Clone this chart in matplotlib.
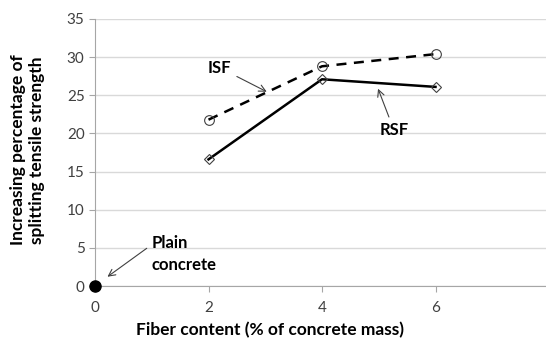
import matplotlib.pyplot as plt
import numpy as np

plt.rcParams["font.family"] = ["Lato", "DejaVu Sans"]

fiber = [2, 4, 6]
isf = [21.8, 28.8, 30.4]
rsf = [16.6, 27.1, 26.1]
plain_x = [0]
plain_y = [0]
xtick_labels = ["0", "2", "4", "6", ""]

fig = plt.figure(figsize=(5.46, 3.41), dpi=100)
ax = fig.add_axes((95 / 546, 55 / 341, 454 / 546, 267 / 341))

ax.set_xlim(0, 8)
ax.set_ylim(0, 35)
ax.set_xticks([0, 2, 4, 6, 8])
ax.set_xticklabels(xtick_labels)
ax.set_yticks(np.arange(0, 36, 5))
ax.yaxis.grid(True, color="#d9d9d9", lw=1)
ax.set_axisbelow(True)
for s in ["top", "right"]:
    ax.spines[s].set_visible(False)
for s in ["left", "bottom"]:
    ax.spines[s].set_color("#a6a6a6")
ax.tick_params(colors="#a6a6a6", labelcolor="#404040", labelsize=11, length=4)
ax.tick_params(axis="x", pad=7)

ax.plot(fiber, isf, "k--", lw=1.8, dashes=(4, 3), marker="o", ms=7,
        mfc="none", mec="#404040", mew=0.8, clip_on=False)
ax.plot(fiber, rsf, "k-", lw=1.8, marker="D", ms=5,
        mfc="none", mec="#404040", mew=0.8, clip_on=False)
ax.plot(plain_x, plain_y, "ko", ms=8, clip_on=False, zorder=5)

arrow = dict(arrowstyle="->", color="#404040", lw=0.8)
ax.annotate("ISF", xy=(3.07, 25.3), xytext=(2.2, 28.6), fontsize=12,
            fontweight="bold", ha="center", va="center", arrowprops=arrow)
ax.annotate("RSF", xy=(4.97, 26.2), xytext=(5.27, 20.4), fontsize=12,
            fontweight="bold", ha="center", va="center", arrowprops=arrow)
ax.annotate("Plain\nconcrete", xy=(0.18, 1.0), xytext=(1.0, 4.2), fontsize=12,
            fontweight="bold", ha="left", va="center", linespacing=1.4,
            arrowprops=dict(arrowstyle="->", color="#404040", lw=0.8,
                            relpos=(0, 0.75)))

ax.set_xlabel("Fiber content (% of concrete mass)", fontsize=12.5,
              fontweight="bold", color="black")
ax.xaxis.set_label_coords(0.385, -0.135)
ax.set_ylabel("Increasing percentage of\nsplitting tensile strength", fontsize=12.5,
              fontweight="bold", color="black", linespacing=1.2)
ax.yaxis.set_label_coords(-0.11, 0.51)

fig.savefig("out.png", dpi=100)
